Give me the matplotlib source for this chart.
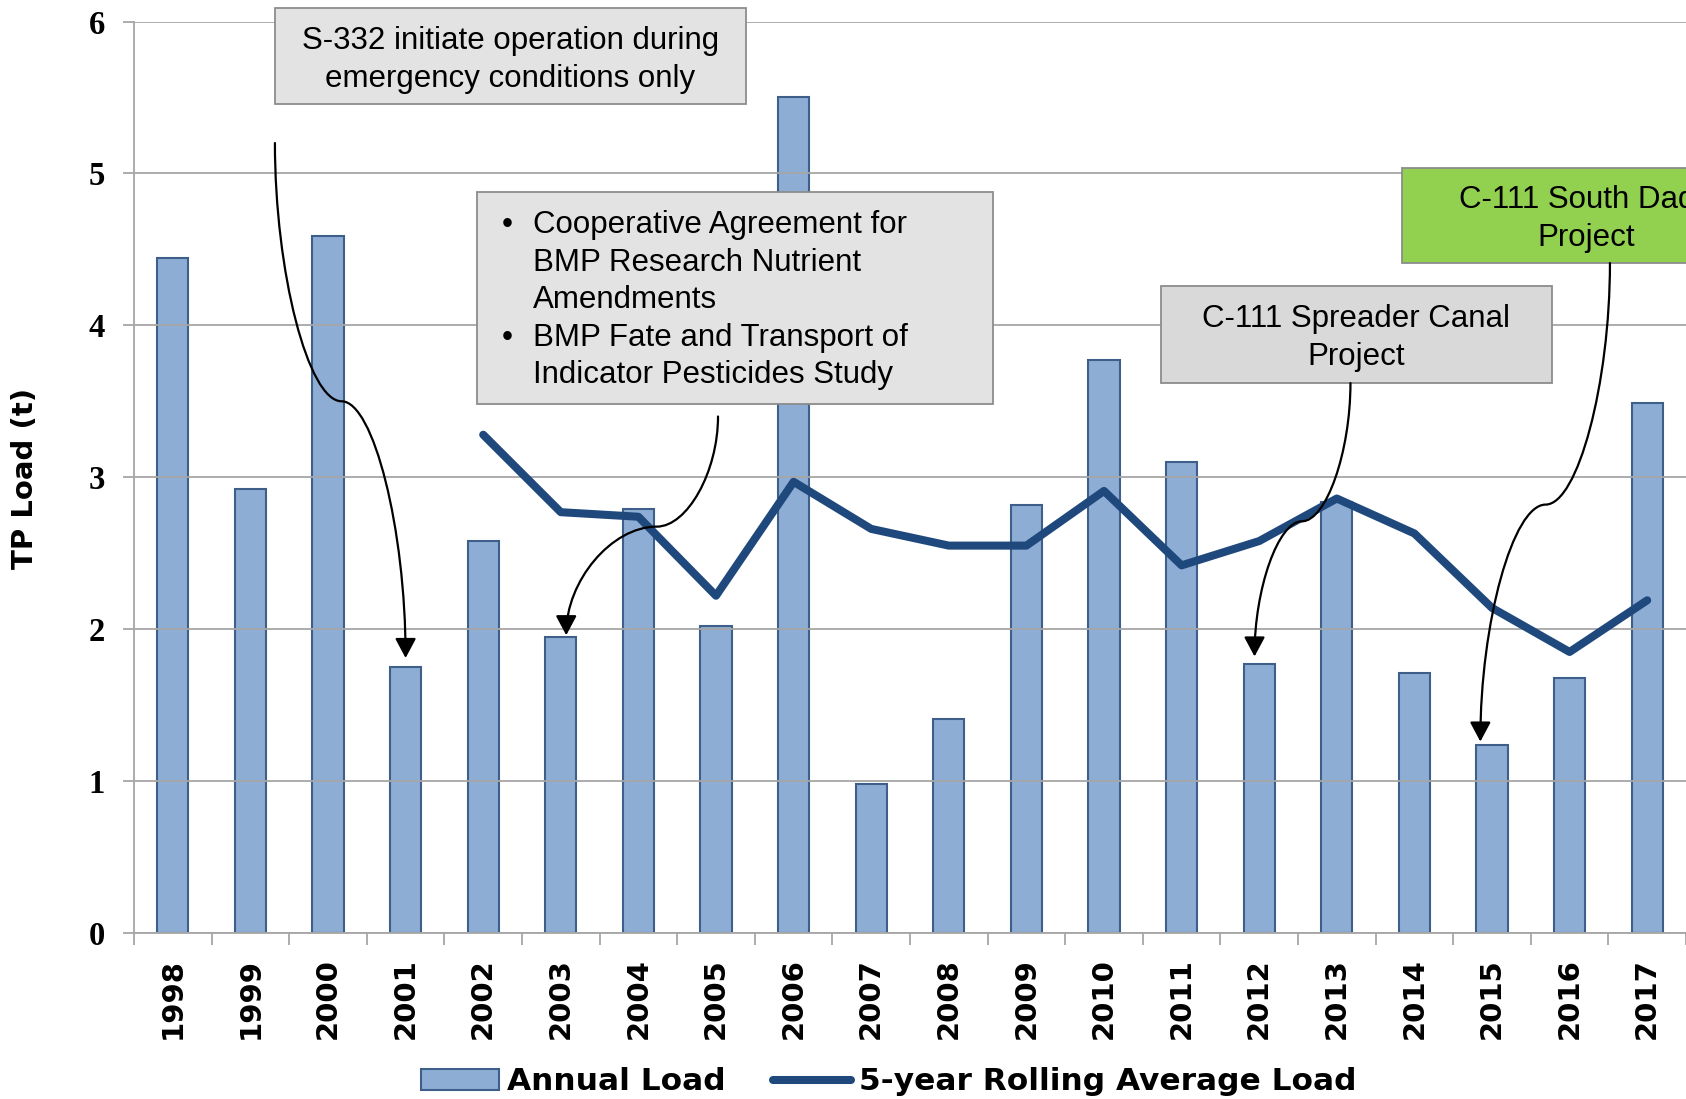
import matplotlib
matplotlib.use('Agg')
import matplotlib.pyplot as plt
from matplotlib.patches import Rectangle, FancyArrowPatch
from matplotlib.path import Path
import numpy as np

# data
years = [str(y) for y in range(1998, 2018)]
annual_load = [4.44, 2.92, 4.59, 1.75, 2.58, 1.95, 2.79, 2.02, 5.50, 0.98,
               1.41, 2.82, 3.77, 3.10, 1.77, 2.84, 1.71, 1.24, 1.68, 3.49]
rolling_years = years[4:]
rolling_avg = [3.28, 2.77, 2.74, 2.22, 2.97, 2.66, 2.55, 2.55,
               2.91, 2.42, 2.58, 2.86, 2.63, 2.14, 1.85, 2.19]

note_s332 = 'S-332 initiate operation during\nemergency conditions only'
note_bmp = ['Cooperative Agreement for', 'BMP Research Nutrient', 'Amendments',
            'BMP Fate and Transport of', 'Indicator Pesticides Study']
note_spreader = 'C-111 Spreader Canal\nProject'
note_south_dade = 'C-111 South Dade\nProject'

GRID = '#A6A6A6'
BAR_FACE = '#8DADD4'
BAR_EDGE = '#3E5F8A'
LINE = '#1F497D'

fig = plt.figure(figsize=(16.86, 10.99), dpi=100)
ax = fig.add_axes([134 / 1686, 1 - 933 / 1099, 1 - 134 / 1686, (933 - 21.5) / 1099])

x = np.arange(len(years))
xr = np.array([years.index(y) for y in rolling_years])

bars = ax.bar(x, annual_load, width=0.4, color=BAR_FACE, edgecolor=BAR_EDGE,
              linewidth=1.5, label='Annual Load', zorder=1)
line, = ax.plot(xr, rolling_avg, color=LINE, lw=5.8, solid_capstyle='round',
                solid_joinstyle='round', label='5-year Rolling Average Load', zorder=3)

ax.set_xlim(-0.5, len(years) - 0.5)
ax.set_ylim(0, 6)
ax.set_axisbelow(False)
ax.yaxis.grid(True, color=GRID, lw=1.3)

for s in ['top', 'right']:
    ax.spines[s].set_visible(False)
for s in ['left', 'bottom']:
    ax.spines[s].set_color(GRID)
    ax.spines[s].set_linewidth(1.3)

# y axis
ax.set_yticks(range(7))
ax.set_yticklabels([str(v) for v in range(7)], family='Liberation Serif',
                   fontweight='bold', fontsize=23.5)
ax.tick_params(axis='y', length=8, width=1.3, color=GRID, pad=13)

# x axis: labels at centres, tick marks between categories
ax.set_xticks(x)
ax.set_xticklabels(years, rotation=90, family='DejaVu Sans',
                   fontweight='bold', fontsize=21)
ax.tick_params(axis='x', which='major', length=0, pad=18)
ax.set_xticks(np.arange(-0.5, len(years), 1), minor=True)
ax.tick_params(axis='x', which='minor', length=8.5, width=1.3, color=GRID)

fig.text(25 / 1686, 1 - 478 / 1099, 'TP Load (t)', rotation=90, ha='center',
         va='center', fontsize=21, fontweight='bold', family='DejaVu Sans')

fig.legend([bars, line], ['Annual Load', '5-year Rolling Average Load'],
           loc='center', bbox_to_anchor=(0.527, 0.0155), ncol=2, frameon=False,
           prop={'family': 'DejaVu Sans', 'weight': 'bold', 'size': 22.5},
           handlelength=2.5, handleheight=0.7, handletextpad=0.26,
           columnspacing=1.5, borderpad=0, borderaxespad=0)


# annotation boxes
def box(x0, x1, y0, y1, face):
    ax.add_patch(Rectangle((x0, y0), x1 - x0, y1 - y0, facecolor=face,
                           edgecolor='#8C8C8C', lw=1.3, zorder=5, clip_on=False))


def note(xc, yc, s, ha='center'):
    ax.text(xc, yc, s, ha=ha, va='center', fontsize=22.5, family='Liberation Sans',
            linespacing=1.33, zorder=6, clip_on=False)


box(1.316, 7.386, 5.455, 6.092, '#E3E3E3')
note(4.351, 5.745, note_s332)

box(3.921, 10.574, 3.481, 4.875, '#E3E3E3')
note(4.642, 4.165, '\n'.join(note_bmp), ha='left')
note(4.240, 4.165, '•\n\n\n•\n', ha='left')

box(12.736, 17.767, 3.623, 4.259, '#D9D9D9')
note(15.252, 3.915, note_spreader)

box(15.84, 21.0, 4.408, 5.038, '#92D050')
note(18.21, 4.700, note_south_dade)


# curved connector arrows (vertical at the ends, horizontal at the bend)
def s_arrow(p0, pm, p1):
    (x0, y0), (xm, ym), (x1, y1) = p0, pm, p1
    verts = [p0, (x0, 0.5 * (y0 + ym)), (0.5 * (x0 + xm), ym), pm,
             (0.5 * (xm + x1), ym), (x1, 0.5 * (ym + y1)), p1]
    codes = [Path.MOVETO] + [Path.CURVE4] * 6
    arr = FancyArrowPatch(path=Path(verts, codes),
                          arrowstyle='-|>,head_length=0.6,head_width=0.32',
                          mutation_scale=20, color='black', lw=1.6,
                          shrinkA=0, shrinkB=0, zorder=6, clip_on=False)
    ax.add_patch(arr)


s_arrow((1.316, 5.20), (2.175, 3.50), (3.0, 1.81))
s_arrow((7.026, 3.40), (6.236, 2.675), (5.07, 1.96))
s_arrow((15.176, 3.62), (14.55, 2.71), (13.94, 1.82))
s_arrow((18.52, 4.41), (17.69, 2.82), (16.85, 1.26))

fig.savefig('out.png', dpi=100)
